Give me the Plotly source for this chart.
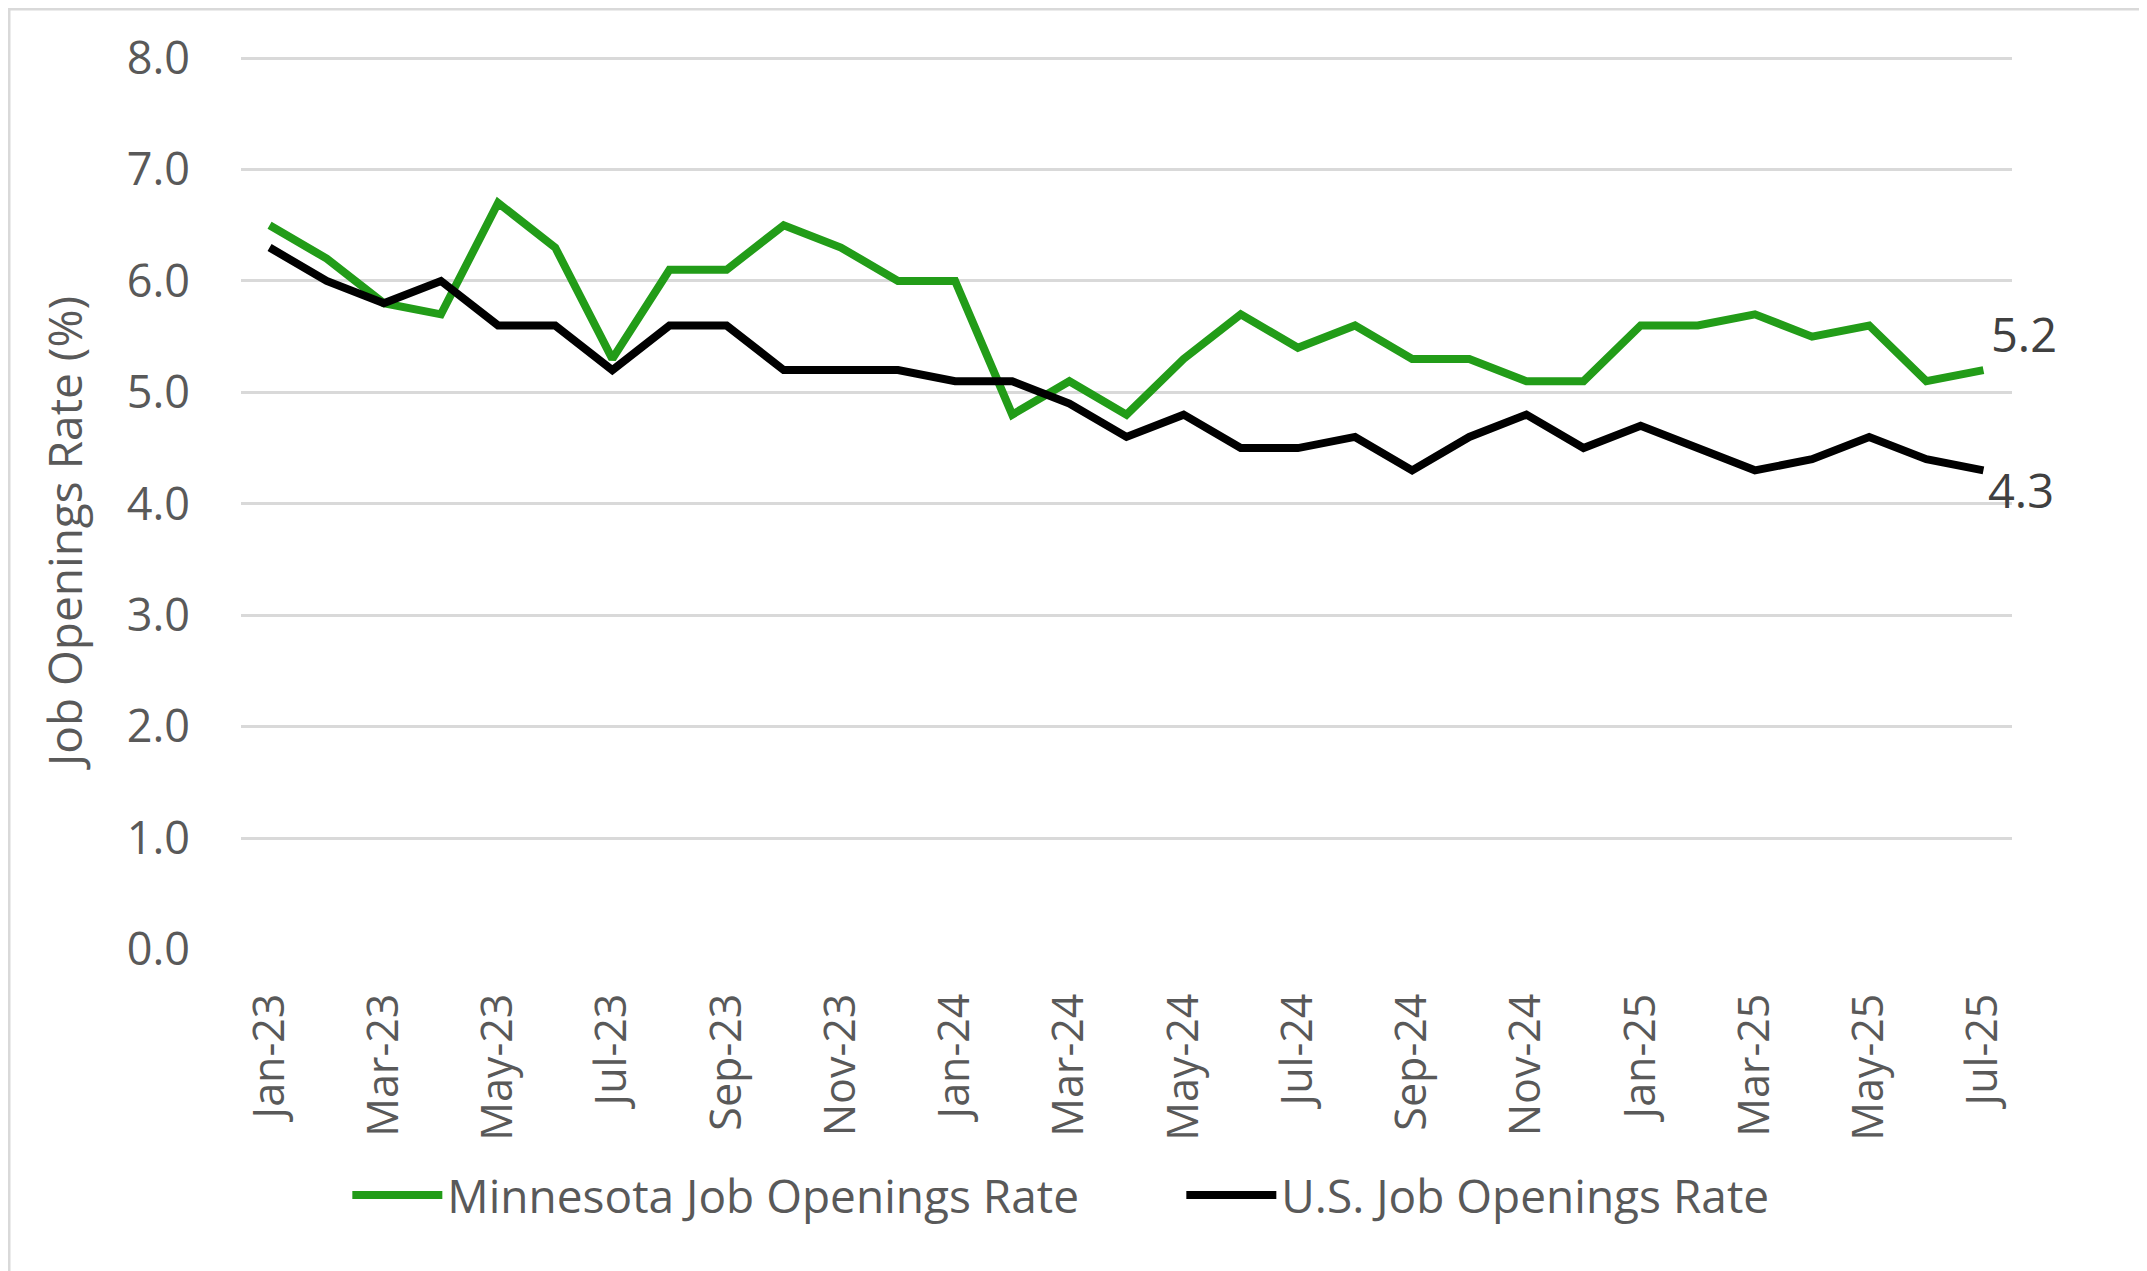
import plotly.graph_objects as go

months = ['Jan-23', 'Feb-23', 'Mar-23', 'Apr-23', 'May-23', 'Jun-23', 'Jul-23', 'Aug-23',
          'Sep-23', 'Oct-23', 'Nov-23', 'Dec-23', 'Jan-24', 'Feb-24', 'Mar-24', 'Apr-24',
          'May-24', 'Jun-24', 'Jul-24', 'Aug-24', 'Sep-24', 'Oct-24', 'Nov-24', 'Dec-24',
          'Jan-25', 'Feb-25', 'Mar-25', 'Apr-25', 'May-25', 'Jun-25', 'Jul-25']

mn_rate = [6.5, 6.2, 5.8, 5.7, 6.7, 6.3, 5.3, 6.1, 6.1, 6.5, 6.3, 6.0, 6.0, 4.8, 5.1, 4.8,
           5.3, 5.7, 5.4, 5.6, 5.3, 5.3, 5.1, 5.1, 5.6, 5.6, 5.7, 5.5, 5.6, 5.1, 5.2]

us_rate = [6.3, 6.0, 5.8, 6.0, 5.6, 5.6, 5.2, 5.6, 5.6, 5.2, 5.2, 5.2, 5.1, 5.1, 4.9, 4.6,
           4.8, 4.5, 4.5, 4.6, 4.3, 4.6, 4.8, 4.5, 4.7, 4.5, 4.3, 4.4, 4.6, 4.4, 4.3]

y_ticks = [0, 1, 2, 3, 4, 5, 6, 7, 8]

GREEN = '#229c18'
GREY = '#595959'
FONT = 'Open Sans'

fig = go.Figure()
fig.add_trace(go.Scatter(x=months, y=mn_rate, mode='lines', name='Minnesota Job Openings Rate',
                         line=dict(color=GREEN, width=8)))
fig.add_trace(go.Scatter(x=months, y=us_rate, mode='lines', name='U.S. Job Openings Rate',
                         line=dict(color='black', width=8)))

# end-point labels
fig.add_annotation(x=months[-1], y=mn_rate[-1], text=f'{mn_rate[-1]:.1f}', showarrow=False,
                   xanchor='left', yanchor='bottom', xshift=6, yshift=2,
                   font=dict(size=47, color='#404040', family=FONT))
fig.add_annotation(x=months[-1], y=us_rate[-1], text=f'{us_rate[-1]:.1f}', showarrow=False,
                   xanchor='left', yanchor='top', xshift=3, yshift=14,
                   font=dict(size=47, color='#404040', family=FONT))

# y axis title (placed like the original, a bit below the plot middle)
fig.add_annotation(xref='paper', yref='paper', x=-0.0999, y=0.467, text='Job Openings Rate (%)',
                   textangle=-90, showarrow=False, xanchor='center', yanchor='middle',
                   font=dict(size=46, color=GREY, family=FONT))

fig.update_layout(
    width=2147, height=1271,
    paper_bgcolor='white', plot_bgcolor='white',
    margin=dict(l=233, r=143, t=49, b=329, autoexpand=False),
    font=dict(family=FONT, color=GREY, size=40),
    legend=dict(orientation='h', xref='container', yref='container',
                x=0.5465, xanchor='center', y=0.066, yanchor='middle',
                bgcolor='rgba(0,0,0,0)',
                font=dict(size=46, color=GREY), itemwidth=90,
                entrywidthmode='pixels', entrywidth=729,
                traceorder='normal'),
    shapes=[dict(type='rect', xref='paper', yref='paper', x0=-232 / 1771, x1=1 + 141 / 1771,
                 y0=-327 / 893, y1=1 + 48 / 893, line=dict(color='#d9d9d9', width=3))],
)
fig.update_xaxes(type='category', range=[-0.5, len(months) - 0.5],
                 tickvals=months[::2], ticktext=months[::2], tickangle=-90,
                 tickfont=dict(size=43, color=GREY), showgrid=False, showline=False,
                 ticks='', ticklabelstandoff=34, automargin=False)
fig.update_yaxes(range=[-0.005, 8.01], tickvals=y_ticks, ticktext=[f'{v:.1f}' for v in y_ticks],
                 tickfont=dict(size=45, color=GREY), showgrid=True, gridcolor='#d9d9d9',
                 gridwidth=3, zeroline=False, showline=False, ticks='', ticklabelstandoff=50,
                 automargin=False)

fig.write_html('out.html')
